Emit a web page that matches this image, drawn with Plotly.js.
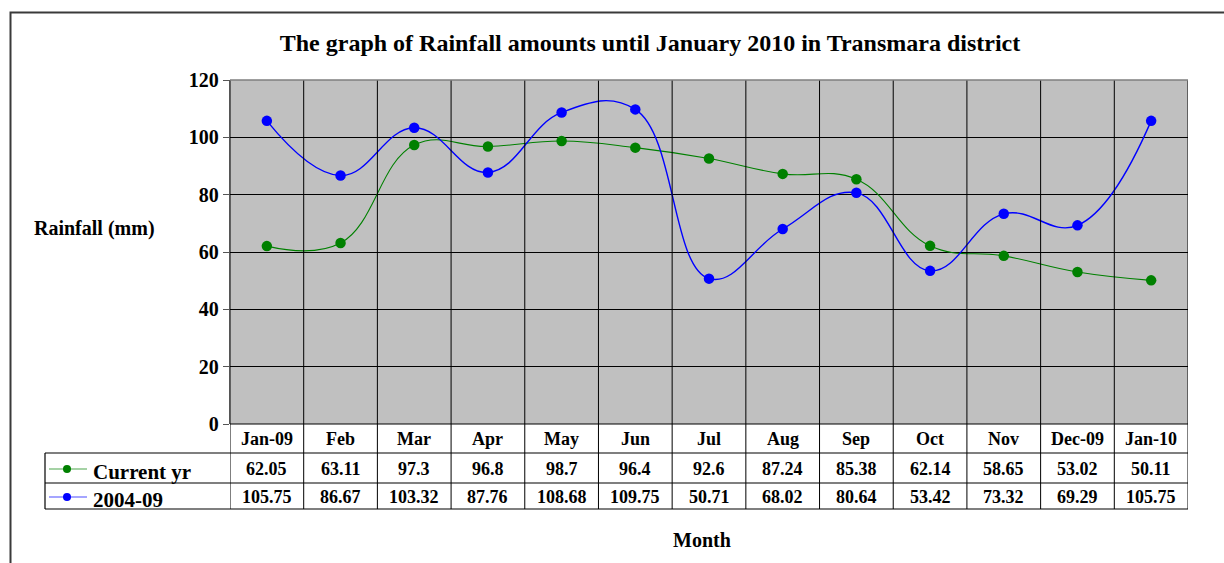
<!DOCTYPE html>
<html>
<head>
<meta charset="utf-8">
<script src="https://cdn.plot.ly/plotly-3.0.1.min.js"></script>
<style>html,body{margin:0;padding:0;background:#fff;}#chart{width:1224px;height:563px;}</style>
</head>
<body>
<div id="chart"></div>
<script>
const months = ["Jan-09","Feb","Mar","Apr","May","Jun","Jul","Aug","Sep","Oct","Nov","Dec-09","Jan-10"];
const currentYr = [62.05,63.11,97.3,96.8,98.7,96.4,92.6,87.24,85.38,62.14,58.65,53.02,50.11];
const avg0409 = [105.75,86.67,103.32,87.76,108.68,109.75,50.71,68.02,80.64,53.42,73.32,69.29,105.75];
const seriesNames = ["Current yr","2004-09"];
const seriesColors = ["#008000","#0000ff"];
const seriesData = [currentYr, avg0409];
const yTicks = [0,20,40,60,80,100,120];

const FONT = "Liberation Serif, Times New Roman, serif";
const W = 1224, H = 563;
const mL = 230, mR = 36, mT = 80, mB = 139;
const pw = W - mL - mR, ph = H - mT - mB;
const px2x = p => (p - mL) / pw;
const px2y = p => (H - mB - p) / ph;

const xs = months.map((m,i)=>i);
const traces = seriesData.map((d,k)=>({
  type:'scatter', mode:'lines+markers', x:xs, y:d, name:seriesNames[k],
  line:{color:seriesColors[k], width:k===1?1.4:1.1, shape:'spline', smoothing:1.2},
  marker:{color:seriesColors[k], size:10.5}, cliponaxis:false, hoverinfo:'skip'
}));

const shapes = [];
const annotations = [];
const yTableBottom = px2y(509);
for (let i=0;i<=months.length;i++){
  shapes.push({type:'line', xref:'x', yref:'paper', x0:i-0.5, x1:i-0.5, y0:yTableBottom, y1:1,
    line:{color:'#000', width:1}, layer:'above'});
}
shapes.push({type:'line', xref:'paper', yref:'paper', x0:0, x1:1, y0:1, y1:1, line:{color:'#7f7f7f', width:1.5}, layer:'above'});
[453,483,509].forEach(p=>{
  shapes.push({type:'line', xref:'paper', yref:'paper', x0:px2x(45), x1:1, y0:px2y(p), y1:px2y(p), line:{color:'#000', width:1.2}, layer:'above'});
});
shapes.push({type:'line', xref:'paper', yref:'paper', x0:0, x1:1, y0:0, y1:0, line:{color:'#000', width:1.2}, layer:'above'});
shapes.push({type:'line', xref:'paper', yref:'paper', x0:px2x(45), x1:px2x(45), y0:px2y(453), y1:px2y(509), line:{color:'#000', width:1.2}, layer:'above'});
shapes.push({type:'rect', xref:'paper', yref:'paper', x0:px2x(10.5), x1:px2x(1240), y0:px2y(600), y1:px2y(12.5), line:{color:'#3a3a3a', width:2}, fillcolor:'rgba(0,0,0,0)', layer:'below'});

months.forEach((m,i)=>{
  annotations.push({xref:'x', yref:'paper', x:i, y:px2y(439), text:m, showarrow:false,
    font:{family:FONT, size:18, color:'#000', weight:'bold'}, xanchor:'center', yanchor:'middle'});
});
const rowY = [469, 497];
seriesData.forEach((d,k)=>{
  d.forEach((v,i)=>{
    annotations.push({xref:'x', yref:'paper', x:i, y:px2y(rowY[k]), text:String(v), showarrow:false,
      font:{family:FONT, size:18, color:'#000', weight:'bold'}, xanchor:'center', yanchor:'middle'});
  });
  shapes.push({type:'line', xref:'paper', yref:'paper', x0:px2x(49), x1:px2x(87), y0:px2y(rowY[k]), y1:px2y(rowY[k]),
    line:{color:seriesColors[k], width:1}, layer:'above', opacity:0.7});
  shapes.push({type:'circle', xref:'paper', yref:'paper', xsizemode:'pixel', ysizemode:'pixel',
    xanchor:px2x(67), yanchor:px2y(rowY[k]), x0:-4, x1:4, y0:-4, y1:4,
    fillcolor:seriesColors[k], line:{color:seriesColors[k], width:0}, layer:'above'});
  annotations.push({xref:'paper', yref:'paper', x:px2x(91), y:px2y(rowY[k]+3), xanchor:'left', yanchor:'middle',
    text:seriesNames[k], showarrow:false, font:{family:FONT, size:21, color:'#000', weight:'bold'}});
});
annotations.push({xref:'paper', yref:'paper', x:px2x(94), y:px2y(228), text:'Rainfall (mm)', showarrow:false,
  xanchor:'center', yanchor:'middle', font:{family:FONT, size:20, color:'#000', weight:'bold'}});
annotations.push({xref:'paper', yref:'paper', x:px2x(702), y:px2y(540), text:'Month', showarrow:false,
  xanchor:'center', yanchor:'middle', font:{family:FONT, size:20, color:'#000', weight:'bold'}});

const layout = {
  width:W, height:H,
  margin:{l:mL, r:mR, t:mT, b:mB, pad:0},
  paper_bgcolor:'#fff', plot_bgcolor:'#c0c0c0',
  showlegend:false,
  title:{text:'The graph of Rainfall amounts until January 2010 in Transmara district',
    x:650/W, xanchor:'center', y:1-43/H, yanchor:'middle',
    font:{family:FONT, size:24, color:'#000', weight:'bold'}},
  xaxis:{type:'linear', range:[-0.5, months.length-0.5], showgrid:false, zeroline:false,
    showticklabels:false, ticks:'', showline:false, fixedrange:true},
  yaxis:{range:[0,120], tickvals:yTicks, showgrid:true, gridcolor:'#000', gridwidth:1,
    zeroline:false, showline:true, linecolor:'#555', linewidth:1.2, ticks:'outside', ticklen:6, tickcolor:'#555',
    tickfont:{family:FONT, size:20, color:'#000', weight:'bold'}, ticklabelstandoff:0, fixedrange:true},
  shapes:shapes, annotations:annotations
};
Plotly.newPlot('chart', traces, layout, {staticPlot:true, displayModeBar:false});
</script>
</body>
</html>
